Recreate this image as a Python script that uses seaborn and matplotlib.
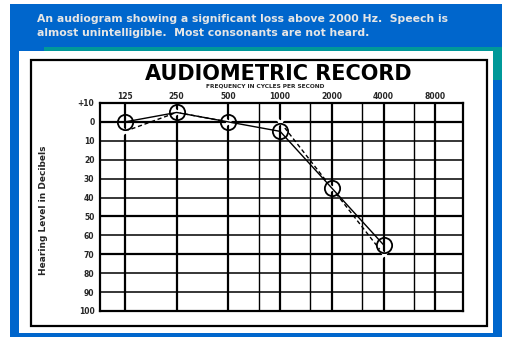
import matplotlib
matplotlib.use("Agg")
import matplotlib.pyplot as plt
from matplotlib.patches import Rectangle
import seaborn as sns
import pandas as pd

freqs = [125, 250, 500, 1000, 2000, 4000]
right_ear = [0, -5, 0, 5, 35, 65]
left_ear = [5, -5, 0, 0, 35, 70]
freq_ticks = [125, 250, 500, 1000, 2000, 4000, 8000]
freq_labels = ["125", "250", "500", "1000", "2000", "4000", "8000"]
half_octaves = [750, 1500, 3000, 6000]
db_ticks = [-10, 0, 10, 20, 30, 40, 50, 60, 70, 80, 90, 100]
db_labels = ["+10", "0", "10", "20", "30", "40", "50", "60", "70", "80", "90", "100"]
header = ("An audiogram showing a significant loss above 2000 Hz.  Speech is\n"
          "almost unintelligible.  Most consonants are not heard.")

sns.set_style("white")
W, H = 512, 342
fig = plt.figure(figsize=(W / 100, H / 100), dpi=100)
fig.patch.set_facecolor("white")

def frect(x0, y0, x1, y1, **kw):
    fig.patches.append(Rectangle((x0 / W, 1 - y1 / H), (x1 - x0) / W, (y1 - y0) / H,
                                 transform=fig.transFigure, figure=fig, **kw))

frect(10, 4, 502, 337, facecolor="#0066cc", edgecolor="none", zorder=0)
frect(44, 47, 502, 52, facecolor="#009999", edgecolor="none", zorder=1)
frect(493, 47, 502, 80, facecolor="#009999", edgecolor="none", zorder=1)
frect(19, 51, 493, 333, facecolor="white", edgecolor="none", zorder=2)
frect(31, 60, 487, 326, facecolor="none", edgecolor="black", linewidth=1.6, zorder=3)

fig.text(37 / W, 1 - 26 / H, header, color="#e6e6e6", fontsize=7.8, fontweight="bold",
         va="center", ha="left", linespacing=1.55, family="DejaVu Sans")

fig.text(278 / W, 1 - 74 / H, "AUDIOMETRIC RECORD", fontsize=15, fontweight="bold",
         ha="center", va="center", family="DejaVu Sans", color="black")
fig.text(265 / W, 1 - 86 / H, "FREQUENCY IN CYCLES PER SECOND", fontsize=4.2,
         fontweight="bold", ha="center", va="center")
fig.text(44 / W, 1 - 210 / H, "Hearing Level in Decibels", rotation=90, fontsize=6.5,
         fontweight="bold", ha="center", va="center")

ax = fig.add_axes([100 / W, 1 - 311 / H, (463 - 100) / W, (311 - 103) / H])
ax.set_zorder(5)
ax.patch.set_alpha(0)
ax.set_xscale("log", base=2)
ax.set_xlim(89.5, 11600)
ax.set_ylim(100, -10)

for f in freq_ticks:
    ax.axvline(f, color="black", linewidth=1.6, zorder=1)
for f in half_octaves:
    ax.axvline(f, color="black", linewidth=1.0, zorder=1)
for d in db_ticks:
    ax.axhline(d, color="black", linewidth=1.6 if d in (0, 50, 70) else 1.1, zorder=1)

df = pd.DataFrame({"freq": freqs, "right": right_ear, "left": left_ear})
sns.lineplot(data=df, x="freq", y="left", ax=ax, color="black", linewidth=1.0,
             linestyle=(0, (3, 2)), marker="x", markersize=7, markeredgewidth=2,
             zorder=3)
sns.lineplot(data=df, x="freq", y="right", ax=ax, color="black", linewidth=1.0,
             marker="o", markersize=11, markerfacecolor="none", markeredgecolor="black",
             markeredgewidth=1.3, zorder=4)

ax.set_xticks(freq_ticks)
ax.set_xticklabels(freq_labels)
ax.xaxis.set_minor_locator(matplotlib.ticker.NullLocator())
ax.xaxis.tick_top()
ax.set_yticks(db_ticks)
ax.set_yticklabels(db_labels)
ax.tick_params(axis="y", length=0, labelsize=5.5, pad=4)
ax.tick_params(axis="x", length=0, labelsize=5.5, pad=1.5)
for t in ax.get_xticklabels() + ax.get_yticklabels():
    t.set_fontweight("bold")
ax.set_xlabel("")
ax.set_ylabel("")
for s in ax.spines.values():
    s.set_visible(True)
    s.set_color("black")
    s.set_linewidth(1.6)

fig.savefig("out.png", dpi=100)
